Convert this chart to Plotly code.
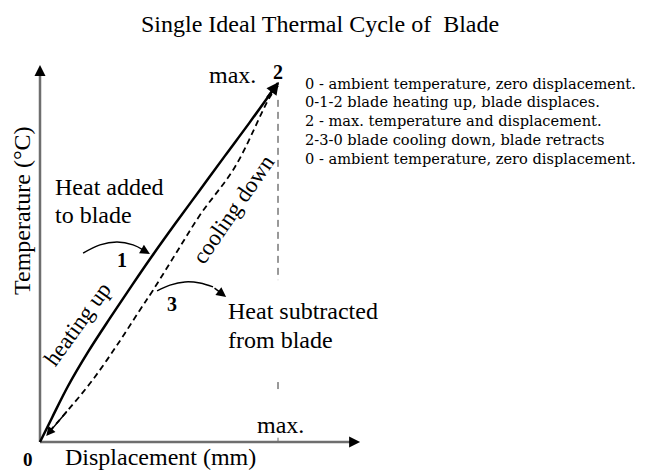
import plotly.graph_objects as go

# The page places the figure 8px in from the top-left corner, so the figure is
# sized to fill the rest of the 649x470 window.
OFF = 8
W, H = 649 - OFF, 470 - OFF
SERIF = "Liberation Serif"

# ---- data (normalized: displacement 0..1 = 0..max, temperature 0..1 = ambient..max) ----
heat_disp = [0.000, 0.050, 0.118, 0.202, 0.294, 0.387, 0.471, 0.567, 0.672, 0.777, 0.882, 1.000]
heat_temp = [0.000, 0.067, 0.156, 0.251, 0.345, 0.437, 0.518, 0.607, 0.702, 0.797, 0.891, 1.000]

cool_disp = [1.000, 0.966, 0.819, 0.672, 0.567, 0.475, 0.420, 0.324, 0.218, 0.118, 0.034]
cool_temp = [0.992, 0.961, 0.766, 0.632, 0.521, 0.423, 0.368, 0.270, 0.170, 0.089, 0.025]

# curved "heat added" / "heat subtracted" arrows
added_disp = [0.181, 0.252, 0.324, 0.391, 0.433]
added_temp = [0.526, 0.549, 0.557, 0.549, 0.535]
sub_disp = [0.492, 0.546, 0.609, 0.672, 0.727]
sub_temp = [0.421, 0.437, 0.446, 0.443, 0.432]

# max displacement guide (x = max), two dashed segments
guide_disp = [1.0, 1.0, None, 1.0, 1.0]
guide_temp = [0.953, 0.451, None, 0.167, 0.136]

x_axis_end = 1.345
y_axis_end = 1.045

legend_lines = [
    "0 - ambient temperature, zero displacement.",
    "0-1-2 blade heating up, blade displaces.",
    "2 - max. temperature and displacement.",
    "2-3-0 blade cooling down, blade retracts",
    "0 - ambient temperature, zero displacement.",
]

# ---- frame: normalized origin at window pixel (40,442), max at (278,83) ----
OX, OY, SX, SY = 40 - OFF, 442 - OFF, 238, 359
xr = [(0 - OX) / SX, (W - OX) / SX]
yr = [(OY - H) / SY, OY / SY]


def P(px, py):
    return (px - OFF) / W, 1 - (py - OFF) / H


fig = go.Figure()

# axes
fig.add_trace(go.Scatter(x=[0, 0, None, 0, x_axis_end - 0.02], y=[y_axis_end - 0.02, 0, None, 0, 0],
                         mode="lines", line=dict(color="#6e6e6e", width=2.5), hoverinfo="skip"))
# small mark at max displacement on the x axis
fig.add_trace(go.Scatter(x=[1, 1], y=[0, 0.012], mode="lines",
                         line=dict(color="#6e6e6e", width=1), hoverinfo="skip"))
# guide
fig.add_trace(go.Scatter(x=guide_disp, y=guide_temp, mode="lines",
                         line=dict(color="#333", width=1, dash="7px,5px"), hoverinfo="skip"))
# heating (solid)
fig.add_trace(go.Scatter(x=heat_disp, y=heat_temp, mode="lines",
                         line=dict(color="black", width=2.5, shape="spline"), hoverinfo="skip"))
# cooling (dashed)
fig.add_trace(go.Scatter(x=cool_disp, y=cool_temp, mode="lines",
                         line=dict(color="black", width=1.8, dash="6px,4px", shape="spline"), hoverinfo="skip"))
# curved arrows
fig.add_trace(go.Scatter(x=added_disp, y=added_temp, mode="lines",
                         line=dict(color="black", width=1.5, shape="spline"), hoverinfo="skip"))
fig.add_trace(go.Scatter(x=sub_disp, y=sub_temp, mode="lines",
                         line=dict(color="black", width=1.5, shape="spline"), hoverinfo="skip"))

ann = []


def head(tip, tail, width, size, style=2):
    ann.append(dict(x=tip[0], y=tip[1], ax=tail[0], ay=tail[1], xref="x", yref="y",
                    axref="x", ayref="y", text="", showarrow=True, arrowhead=style,
                    arrowsize=size, arrowwidth=width, arrowcolor="black", standoff=0))


# arrowheads
head((0, y_axis_end + 0.005), (0, y_axis_end - 0.03), 2, 1.1)
head((x_axis_end, 0), (x_axis_end - 0.05, 0), 2, 1.1)
head((heat_disp[-1] + 0.004, heat_temp[-1] + 0.003), (0.95, 0.955), 2.5, 1.0)
head((cool_disp[-1] - 0.008, cool_temp[-1] - 0.008), (cool_disp[-2], cool_temp[-2]), 1.5, 1.2)
head((0.462, 0.524), (added_disp[-1], added_temp[-1]), 1.5, 1.3)
head((0.782, 0.404), (sub_disp[-1], sub_temp[-1]), 1.5, 1.3)


def text(s, px, py, size, xanchor="center", angle=0, family=SERIF):
    x, y = P(px, py)
    ann.append(dict(x=x, y=y, xref="paper", yref="paper", text=s, showarrow=False,
                    xanchor=xanchor, yanchor="middle", textangle=angle,
                    font=dict(family=family, size=size, color="black")))


text("Single Ideal Thermal Cycle of\u00a0 Blade", 320, 24, 24)
text("Temperature (\u00b0C)", 22, 211, 24, angle=-90)
text("Displacement (mm)", 160, 457, 24)
text("<b>0</b>", 28, 459, 19)
text("max.", 233, 75, 24)
text("<b>2</b>", 278, 72, 20)
text("max.", 280, 425, 24)
text("Heat added", 53, 187, 24, xanchor="left")
text("to blade", 53, 215, 24, xanchor="left")
text("Heat subtracted", 226, 311, 24, xanchor="left")
text("from blade", 226, 340, 24, xanchor="left")
text("<b>1</b>", 122, 260, 20)
text("<b>3</b>", 172, 304, 20)
text("heating up", 77, 324, 23, angle=-54)
text("cooling down", 233, 209, 23, angle=-55.5)
for i, line in enumerate(legend_lines):
    text(line, 303, 83 + i * 18.75, 14.6, xanchor="left", family="DejaVu Serif")

fig.update_layout(
    width=W, height=H, autosize=False,
    margin=dict(l=0, r=0, t=0, b=0, pad=0),
    paper_bgcolor="white", plot_bgcolor="white",
    showlegend=False,
    xaxis=dict(range=xr, visible=False, fixedrange=True),
    yaxis=dict(range=yr, visible=False, fixedrange=True),
    annotations=ann,
)

fig.write_html("out.html")
